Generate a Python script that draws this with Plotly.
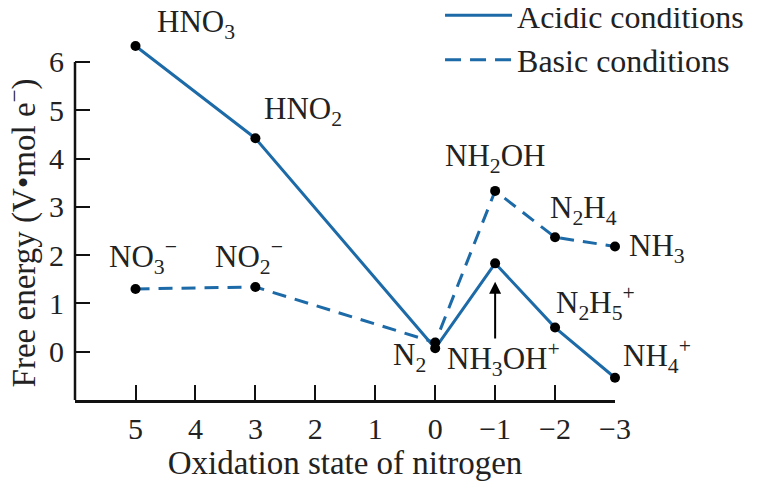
import plotly.graph_objects as go

# Data
acid_x = [5, 3, 0, -1, -2, -3]
acid_y = [6.33, 4.42, 0.07, 1.83, 0.50, -0.54]
acid_labels = ["HNO<sub>3</sub>", "HNO<sub>2</sub>", "", "NH<sub>3</sub>OH<sup>+</sup>",
               "N<sub>2</sub>H<sub>5</sub><sup>+</sup>", "NH<sub>4</sub><sup>+</sup>"]

basic_x = [5, 3, 0, -1, -2, -3]
basic_y = [1.30, 1.34, 0.19, 3.33, 2.37, 2.18]
basic_labels = ["NO<sub>3</sub><sup>−</sup>", "NO<sub>2</sub><sup>−</sup>", "N<sub>2</sub>",
                "NH<sub>2</sub>OH", "N<sub>2</sub>H<sub>4</sub>", "NH<sub>3</sub>"]

x_ticks = [5, 4, 3, 2, 1, 0, -1, -2, -3]
y_ticks = [0, 1, 2, 3, 4, 5, 6]

BLUE = "#1c6aa7"
FONT = "Liberation Serif"
TXT = "#222"
DASH = "14px,9px"

fig = go.Figure()
fig.add_trace(go.Scatter(
    x=acid_x, y=acid_y, mode="lines+markers", showlegend=False,
    line=dict(color=BLUE, width=3),
    marker=dict(color="black", size=10),
    cliponaxis=False,
))
fig.add_trace(go.Scatter(
    x=basic_x, y=basic_y, mode="lines+markers", showlegend=False,
    line=dict(color=BLUE, width=3, dash=DASH),
    marker=dict(color="black", size=10),
    cliponaxis=False,
))
# legend entries (line only)
fig.add_trace(go.Scatter(x=[None], y=[None], mode="lines", name="Acidic conditions",
                         line=dict(color=BLUE, width=3)))
fig.add_trace(go.Scatter(x=[None], y=[None], mode="lines", name="Basic conditions",
                         line=dict(color=BLUE, width=3, dash="16px,9px")))

# label offsets (pixels, right/down) relative to their points
acid_off = [(60, -22), (48, -27), None, (8, 96), (40, -25), (42, -22)]
basic_off = [(7, -32), (-6, -30), (-26, 14), (0, -33), (28, -27), (42, 2)]

for xs, ys, labs, offs in [(acid_x, acid_y, acid_labels, acid_off),
                           (basic_x, basic_y, basic_labels, basic_off)]:
    for xv, yv, lab, off in zip(xs, ys, labs, offs):
        if not lab or off is None:
            continue
        fig.add_annotation(x=xv, y=yv, text=lab, showarrow=False,
                           xanchor="center", yanchor="middle",
                           xshift=off[0], yshift=-off[1],
                           font=dict(family=FONT, size=31, color=TXT))

# arrow pointing up at NH3OH+ point
fig.add_annotation(x=acid_x[3], y=1.45, ax=acid_x[3], ay=0.24,
                   xref="x", yref="y", axref="x", ayref="y",
                   showarrow=True, arrowhead=2, arrowsize=1.2, arrowwidth=2,
                   arrowcolor="black", text="")

# y axis title
fig.add_annotation(xref="paper", yref="y", x=0, y=2.45, xshift=-53,
                   xanchor="center", yanchor="middle", textangle=-90, showarrow=False,
                   text="Free energy (V•mol e<sup>−</sup>)",
                   font=dict(family=FONT, size=33, color=TXT))

# y axis line only up to the top tick
fig.add_shape(type="line", xref="paper", yref="y", x0=0, x1=0, y0=-1, y1=max(y_ticks),
              line=dict(color="#111", width=2.5))

# the page body adds an 8px offset, so the figure is 8px smaller
fig.update_layout(
    width=752, height=475,
    margin=dict(l=67, r=145, t=25, b=83, autoexpand=False),
    paper_bgcolor="white", plot_bgcolor="white",
    font=dict(family=FONT, size=30, color=TXT),
    showlegend=True,
    legend=dict(x=0.676, y=1.123, xanchor="left", yanchor="top", itemwidth=67,
                font=dict(family=FONT, size=32, color=TXT),
                bgcolor="rgba(0,0,0,0)", tracegroupgap=0),
    xaxis=dict(range=[6.01, -3], tickvals=x_ticks,
               showline=True, linecolor="#111", linewidth=2.5,
               ticks="inside", ticklen=15, tickwidth=2, tickcolor="#111",
               showgrid=False, zeroline=False,
               tickfont=dict(family=FONT, size=30, color=TXT),
               title=dict(text="Oxidation state of nitrogen", standoff=2,
                          font=dict(family=FONT, size=33, color=TXT))),
    yaxis=dict(range=[-1, 6.6], tickvals=y_ticks,
               showline=False,
               ticks="inside", ticklen=15, tickwidth=2, tickcolor="#111",
               showgrid=False, zeroline=False,
               tickfont=dict(family=FONT, size=30, color=TXT),
               ticklabelstandoff=10),
)

fig.write_html("out.html")
